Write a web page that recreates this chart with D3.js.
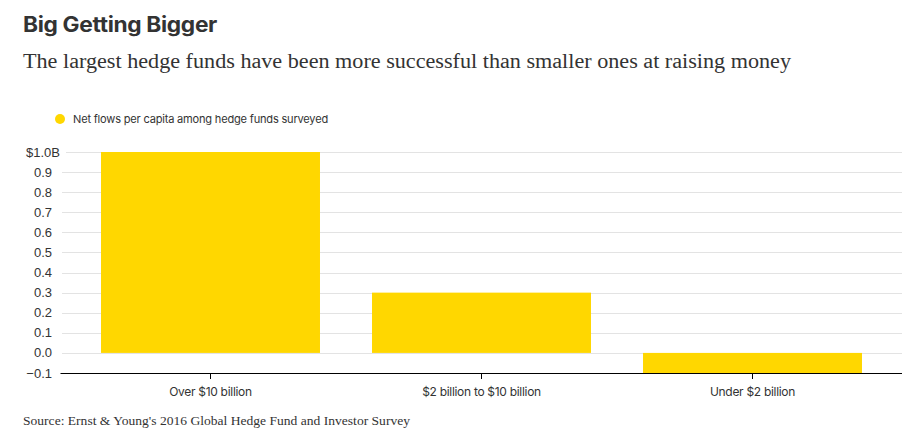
<!DOCTYPE html>
<html><head><meta charset="utf-8">
<script src="https://cdn.jsdelivr.net/npm/d3@7"></script>
<style>body{margin:0;background:#fff}</style>
</head><body>
<script>
const categories = ["Over $10 billion", "$2 billion to $10 billion", "Under $2 billion"];
const values = [1.0, 0.3, -0.1];
const yTicks = [-0.1, 0, 0.1, 0.2, 0.3, 0.4, 0.5, 0.6, 0.7, 0.8, 0.9, 1.0];
const seriesName = "Net flows per capita among hedge funds surveyed";

const W = 914, H = 440;
const svg = d3.select("body").append("svg").attr("width", W).attr("height", H);

function fit(sel, target) {
  const w = sel.node().getComputedTextLength();
  if (w > 0) sel.attr("textLength", target).attr("lengthAdjust", "spacingAndGlyphs");
}

const t = svg.append("text").attr("x", 23).attr("y", 32)
  .attr("font-family", "Inter, 'Noto Sans', sans-serif").attr("font-weight", 700)
  .attr("font-size", 21).attr("fill", "#333").attr("letter-spacing", -0.3).text("Big Getting Bigger");
fit(t, 194);
const st = svg.append("text").attr("x", 23).attr("y", 68)
  .attr("font-family", "'Liberation Serif', serif")
  .attr("font-size", 20).attr("fill", "#333")
  .text("The largest hedge funds have been more successful than smaller ones at raising money");
fit(st, 768);

svg.append("circle").attr("cx", 60).attr("cy", 119).attr("r", 5).attr("fill", "#ffd700");
const lg = svg.append("text").attr("x", 73).attr("y", 123)
  .attr("font-family", "Inter, 'Noto Sans', sans-serif").attr("font-size", 11).attr("fill", "#333")
  .attr("letter-spacing", -0.2).text(seriesName);
fit(lg, 255);

const y = d3.scaleLinear().domain([-0.1, 1.0]).range([373, 152]);
const x = d3.scaleBand().domain(categories).range([75, 888]).paddingInner(0.192).paddingOuter(0.096);

// gridlines
const g = svg.append("g");
g.selectAll("line.grid").data(yTicks.filter(d => d > -0.1)).join("line")
  .attr("x1", d => d === 1.0 ? 66 : 62).attr("x2", 902)
  .attr("y1", d => Math.round(y(d)) + 0.5).attr("y2", d => Math.round(y(d)) + 0.5)
  .attr("stroke", "#e3e3e3").attr("stroke-width", 1);

// y labels
g.selectAll("text.yl").data(yTicks).join("text")
  .attr("x", d => d === 1.0 ? 60 : 52).attr("y", d => y(d) + 4.5)
  .attr("text-anchor", "end")
  .attr("font-family", "'Liberation Sans', Arial, sans-serif").attr("font-size", 13).attr("fill", "#333")
  .text(d => d === 1.0 ? "$1.0B" : d3.format(".1f")(d));

// bars
svg.append("g").selectAll("rect").data(values).join("rect")
  .attr("x", (d, i) => x(categories[i])).attr("width", x.bandwidth())
  .attr("y", d => y(Math.max(0, d))).attr("height", d => Math.abs(y(d) - y(0)))
  .attr("fill", "#ffd700");

// x axis
const xa = svg.append("g").attr("transform", "translate(0,373)")
  .call(d3.axisBottom(x).tickSize(6).tickSizeOuter(0));
xa.select(".domain").attr("d", "M60.5,0.5H902").attr("stroke", "#000");
xa.selectAll(".tick line").attr("stroke", "#000");
xa.selectAll(".tick text").attr("y", 14).attr("dy", "0.71em")
  .attr("font-family", "Inter, 'Noto Sans', sans-serif").attr("font-size", 12).attr("fill", "#333")
  .attr("letter-spacing", -0.3);

const src = svg.append("text").attr("x", 23).attr("y", 425)
  .attr("font-family", "'Liberation Serif', serif").attr("font-size", 13).attr("fill", "#333")
  .text("Source: Ernst & Young's 2016 Global Hedge Fund and Investor Survey");
fit(src, 387);
</script>
</body></html>
